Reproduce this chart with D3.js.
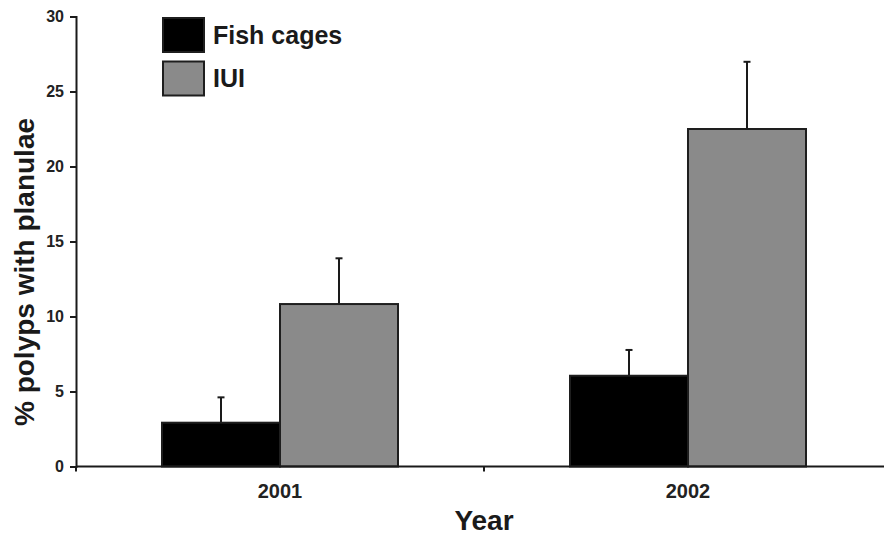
<!DOCTYPE html>
<html>
<head>
<meta charset="utf-8">
<script src="https://cdn.jsdelivr.net/npm/d3@7"></script>
<style>
  html, body { margin: 0; padding: 0; background: #fff; }
  svg { display: block; font-family: "Liberation Sans", Arial, Helvetica, sans-serif; }
</style>
</head>
<body>
<svg id="chart" width="884" height="536"></svg>
<script>
// Percentage of polyps carrying planulae, by year and site
const years = ["2001", "2002"];
const seriesNames = ["Fish cages", "IUI"];
const fishCages = [2.92, 6.05];
const fishCagesErr = [1.69, 1.72];
const iui = [10.83, 22.5];
const iuiErr = [3.05, 4.48];
const yTicks = [0, 5, 10, 15, 20, 25, 30];

const colors = { "Fish cages": "#000000", "IUI": "#8a8a8a" };

const svg = d3.select("#chart");
const axisX = 76;
const axisTop = 16.5;
const axisBottom = 466.5;
const xRight = axisX + 2 * 408;

const x = d3.scaleBand().domain(years).range([axisX, xRight]).padding(0);
const inner = d3.scaleBand().domain(seriesNames).range([0, 236]);
const y = d3.scaleLinear().domain([0, 30]).range([axisBottom, axisTop]);

const rows = years.map((yr, i) => ({
  year: yr,
  bars: [
    { name: "Fish cages", value: fishCages[i], err: fishCagesErr[i] },
    { name: "IUI", value: iui[i], err: iuiErr[i] }
  ]
}));

// Bar groups, centred in each year band
const groups = svg.append("g").selectAll("g")
  .data(rows).join("g")
  .attr("transform", d => `translate(${x(d.year) + x.bandwidth() / 2 - 118},0)`);

// Error bars (upper only)
groups.selectAll("g.err")
  .data(d => d.bars).join("g")
  .attr("class", "err")
  .each(function (d) {
    const cx = inner(d.name) + inner.bandwidth() / 2;
    const g = d3.select(this);
    g.append("line")
      .attr("x1", cx).attr("x2", cx)
      .attr("y1", y(d.value)).attr("y2", y(d.value + d.err))
      .attr("stroke", "#1a1a1a").attr("stroke-width", 2);
    g.append("line")
      .attr("x1", cx - 3.5).attr("x2", cx + 3.5)
      .attr("y1", y(d.value + d.err)).attr("y2", y(d.value + d.err))
      .attr("stroke", "#1a1a1a").attr("stroke-width", 2);
  });

groups.selectAll("rect")
  .data(d => d.bars).join("rect")
  .attr("x", d => inner(d.name))
  .attr("y", d => y(d.value))
  .attr("width", inner.bandwidth())
  .attr("height", d => y(0) - y(d.value))
  .attr("fill", d => colors[d.name])
  .attr("stroke", "#1e1e1e")
  .attr("stroke-width", 2);

// Y axis
const yAxis = svg.append("g")
  .attr("transform", `translate(${axisX},0)`)
  .call(d3.axisLeft(y).tickValues(yTicks).tickSize(6).tickPadding(6).tickFormat(d3.format("d")));
yAxis.select(".domain").attr("stroke", "#1a1a1a").attr("stroke-width", 2);
yAxis.selectAll(".tick line").attr("stroke", "#1a1a1a").attr("stroke-width", 2);
yAxis.selectAll(".tick text")
  .attr("font-size", 16).attr("font-weight", "bold").attr("fill", "#222")
  .attr("font-family", "'Liberation Sans', Arial, sans-serif");

// X axis: ticks at category boundaries, labels at centres
const xAxisG = svg.append("g").attr("transform", `translate(0,${axisBottom})`);
xAxisG.append("line")
  .attr("x1", axisX).attr("x2", xRight)
  .attr("stroke", "#1a1a1a").attr("stroke-width", 2);
const boundaries = years.map(yr => x(yr)).concat([xRight]);
xAxisG.selectAll("line.tick")
  .data(boundaries).join("line")
  .attr("class", "tick")
  .attr("x1", d => d).attr("x2", d => d)
  .attr("y1", 0).attr("y2", 5)
  .attr("stroke", "#1a1a1a").attr("stroke-width", 2);
xAxisG.selectAll("text")
  .data(years).join("text")
  .attr("x", d => x(d) + x.bandwidth() / 2)
  .attr("y", 31)
  .attr("text-anchor", "middle")
  .attr("font-size", 20).attr("font-weight", "bold").attr("fill", "#222")
  .text(d => d);

// Axis titles
svg.append("text")
  .attr("x", 484).attr("y", 530)
  .attr("text-anchor", "middle")
  .attr("font-size", 28).attr("font-weight", "bold").attr("fill", "#1a1a1a")
  .text("Year");
svg.append("text")
  .attr("transform", "translate(34,272) rotate(-90)")
  .attr("text-anchor", "middle")
  .attr("font-size", 28).attr("font-weight", "bold").attr("fill", "#1a1a1a")
  .text("% polyps with planulae");

// Legend
const legend = svg.append("g").attr("transform", "translate(163,18)");
const li = legend.selectAll("g").data(seriesNames).join("g")
  .attr("transform", (d, i) => `translate(0,${i * 43.5})`);
li.append("rect")
  .attr("width", 41).attr("height", 34)
  .attr("fill", d => colors[d])
  .attr("stroke", "#1e1e1e").attr("stroke-width", 2);
li.append("text")
  .attr("x", 50).attr("y", 25.5)
  .attr("font-size", 25).attr("font-weight", "bold").attr("fill", "#1a1a1a")
  .text(d => d);
</script>
</body>
</html>
